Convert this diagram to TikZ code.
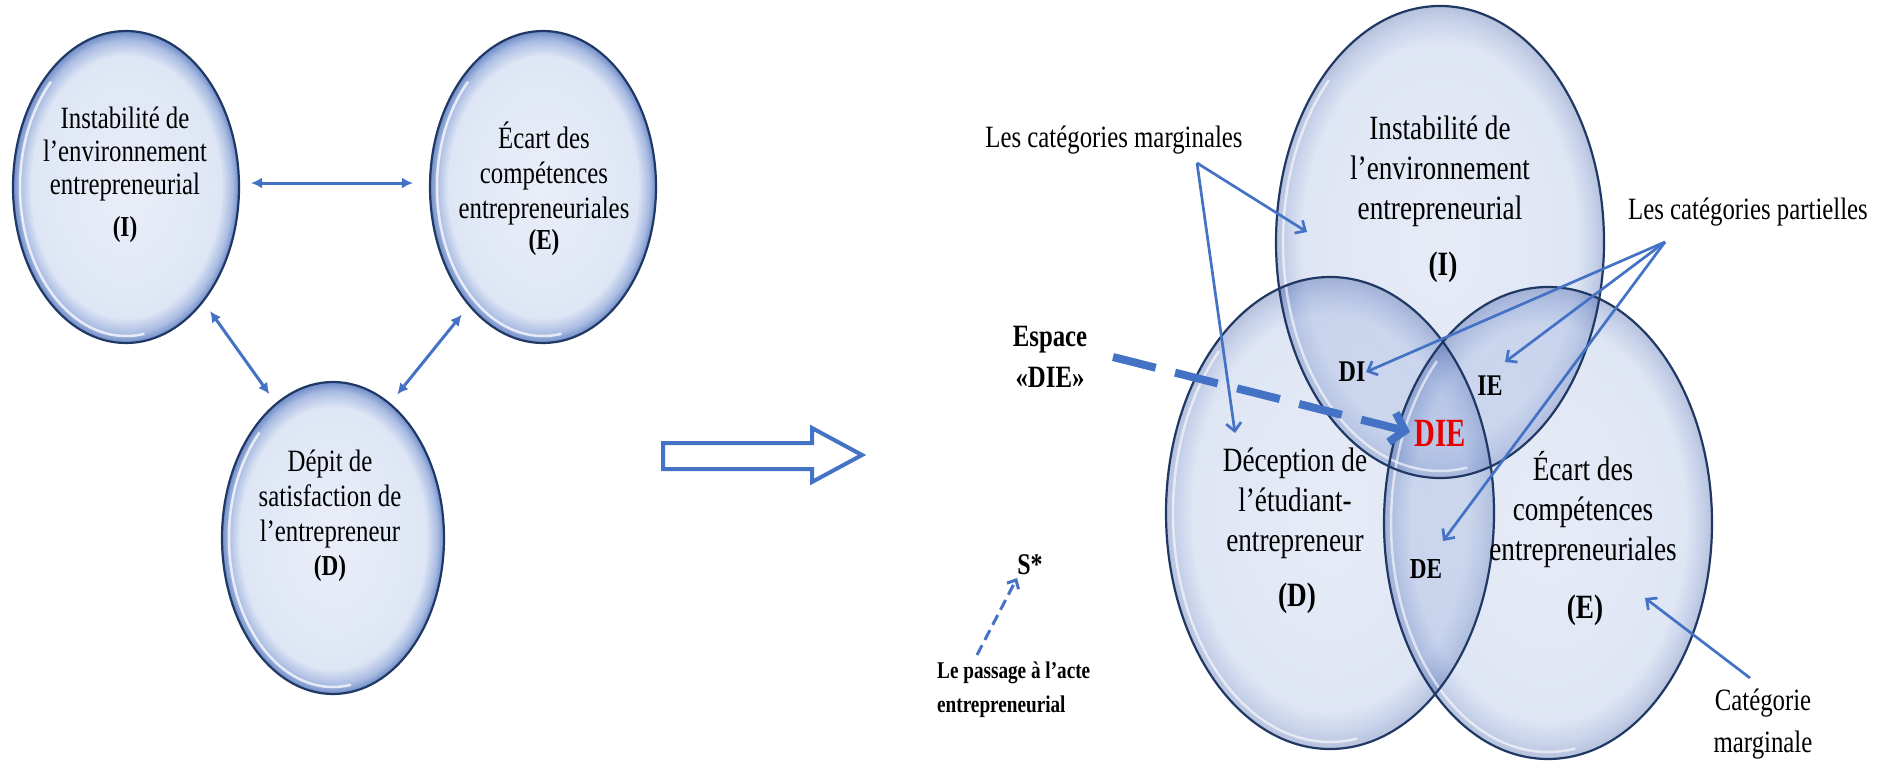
\documentclass[tikz,border=0pt]{standalone}
\usepackage{fontspec}
\setmainfont{Liberation Serif}[FakeStretch=0.8]
\usetikzlibrary{shapes.geometric,arrows.meta,calc}
\definecolor{abl}{RGB}{68,114,196}
\definecolor{navy}{RGB}{31,56,100}
\definecolor{dred}{RGB}{230,0,0}
\definecolor{lcA}{RGB}{234,238,248}
\definecolor{lcB}{RGB}{222,230,245}
\definecolor{lcC}{RGB}{170,188,226}
\definecolor{lcD}{RGB}{110,140,200}
\definecolor{rcA}{RGB}{175,192,228}
\definecolor{rcB}{RGB}{150,172,220}
\definecolor{rcC}{RGB}{70,105,185}
\definecolor{rcD}{RGB}{15,50,140}
\pgfdeclareradialshading{rimL}{\pgfpoint{0bp}{0bp}}{color(0bp)=(lcA); color(21bp)=(lcB); color(23.5bp)=(lcC); color(25bp)=(lcD); color(50bp)=(lcD)}
\pgfdeclareradialshading{rimR}{\pgfpoint{0bp}{0bp}}{color(0bp)=(rcA); color(21bp)=(rcB); color(23.5bp)=(rcC); color(25bp)=(rcD); color(50bp)=(rcD)}
\tikzset{
  lball/.style={ellipse, inner sep=0pt, minimum width=226pt, minimum height=312pt, shade, shading=rimL, draw=navy, line width=2.2pt},
  rball/.style={ellipse, inner sep=0pt, minimum width=328pt, minimum height=472pt, shade, shading=rimR, fill opacity=0.3},
  routline/.style={draw=navy, line width=2.2pt},
  shine/.style={white, opacity=0.75, line width=2.5pt},
  ltxt/.style={align=center, inner sep=0pt, font=\fontsize{31}{33}\selectfont},
  ltxtb/.style={align=center, inner sep=0pt, font=\fontsize{31}{35}\selectfont},
  lbold/.style={inner sep=0pt, font=\bfseries\fontsize{29}{29}\selectfont},
  rtxt/.style={align=center, inner sep=0pt, font=\fontsize{34}{40}\selectfont},
  rbold/.style={inner sep=0pt, font=\bfseries\fontsize{34}{34}\selectfont},
  lab/.style={align=center, inner sep=0pt, font=\fontsize{31}{42}\selectfont},
  labb/.style={align=center, inner sep=0pt, font=\bfseries\fontsize{31}{41}\selectfont},
  zone/.style={inner sep=0pt, font=\bfseries\fontsize{30}{30}\selectfont},
  dbl/.style={abl, line width=3pt, {Latex[length=11pt,width=11pt]}-{Latex[length=11pt,width=11pt]}},
  thin/.style={abl, line width=2.7pt, -{Straight Barb[length=8pt,width=15pt]}},
  bigdash/.style={abl, line width=8pt, dash pattern=on 44pt off 20pt, -{Straight Barb[length=13pt,width=30pt]}},
  smalldash/.style={abl, line width=3pt, dash pattern=on 11pt off 6pt, -{Straight Barb[length=7pt,width=13pt]}},
}
\begin{document}
\begin{tikzpicture}[x=1pt,y=-1pt]
\useasboundingbox[fill=white] (0,0) rectangle (1892,765);

% ---------- left diagram ----------
\node[lball] (LI) at (126,187) {};
\node[lball] (LE) at (543,187) {};
\node[lball, minimum width=222pt] (LD) at (333,538) {};
\draw[shine] ($(LI.center)+({106*cos(225)},{149*sin(225)})$) arc[start angle=225, end angle=80, x radius=106, y radius=149];
\draw[shine] ($(LE.center)+({106*cos(225)},{149*sin(225)})$) arc[start angle=225, end angle=80, x radius=106, y radius=149];
\draw[shine] ($(LD.center)+({104*cos(225)},{149*sin(225)})$) arc[start angle=225, end angle=80, x radius=104, y radius=149];

\node[ltxt] (LIt) at (125,154) {Instabilité de\\l’environnement\\entrepreneurial};
\node[lbold] (LIl) at (125,230) {(I)};
\node[ltxtb] (LEt) at (544,173) {Écart des\\compétences\\entrepreneuriales};
\node[lbold] (LEl) at (544,243) {(E)};
\node[ltxtb] (LDt) at (330,499) {Dépit de\\satisfaction de\\l’entrepreneur};
\node[lbold] (LDl) at (330,569) {(D)};

\draw[dbl, shorten <=11pt, shorten >=16pt] (LI.2) -- (LE.178);
\draw[dbl, shorten <=11pt, shorten >=11pt] (LI.-56) -- (LD.113);
\draw[dbl, shorten <=11pt, shorten >=11pt] (LE.238) -- (LD.67);

% ---------- hollow arrow ----------
\draw[abl, line width=4pt, line join=miter, fill=white]
  (663,443) -- (812,443) -- (812,428) -- (862,455) -- (812,482) -- (812,469) -- (663,469) -- cycle;

% ---------- right diagram ----------
\node[rball] (RI) at (1440,242) {};
\node[rball] (RD) at (1330,513) {};
\node[rball] (RE) at (1548,523) {};
\draw[shine, opacity=0.6] ($(RI.center)+({157*cos(225)},{229*sin(225)})$) arc[start angle=225, end angle=80, x radius=157, y radius=229];
\draw[shine, opacity=0.6] ($(RD.center)+({157*cos(225)},{229*sin(225)})$) arc[start angle=225, end angle=80, x radius=157, y radius=229];
\draw[shine, opacity=0.6] ($(RE.center)+({157*cos(225)},{229*sin(225)})$) arc[start angle=225, end angle=80, x radius=157, y radius=229];
\draw[routline] (RI.center) ellipse [x radius=164pt, y radius=236pt];
\draw[routline] (RD.center) ellipse [x radius=164pt, y radius=236pt];
\draw[routline] (RE.center) ellipse [x radius=164pt, y radius=236pt];

\node[rtxt] (RIt) at (1440,171) {Instabilité de\\l’environnement\\entrepreneurial};
\node[rbold] (RIl) at (1443,267) {(I)};
\node[rtxt] (RDt) at (1295,503) {Déception de\\l’étudiant-\\entrepreneur};
\node[rbold] (RDl) at (1297,598) {(D)};
\node[rtxt] (REt) at (1583,510) {Écart des\\compétences\\entrepreneuriales};
\node[rbold] (REl) at (1585,610) {(E)};

\node[zone] (DI) at (1352,372) {DI};
\node[zone] (IE) at (1490,386) {IE};
\node[zone, font=\bfseries\fontsize{29}{29}\selectfont] (DE) at (1426,569) {DE};
\node[inner sep=0pt, text=dred, font=\bfseries\fontsize{40}{40}\selectfont] (DIE) at (1440,433) {\scalebox{0.9}[1]{DIE}};

\node[lab] (lcm) at (1114,140) {Les catégories marginales};
\node[lab] (lcp) at (1748,212) {Les catégories partielles};
\node[lab] (lcat) at (1763,724) {Catégorie\\marginale};
\node[labb] (esp) at (1050,357) {Espace\\«DIE»};
\node[zone] (sstar) at (1030,565) {S*};
\node[inner sep=0pt, anchor=west, align=left, font=\bfseries\fontsize{24}{34}\selectfont] (lpa) at (937,690) {Le passage à l’acte\\entrepreneurial};

% arrow end points
\coordinate (mS) at (1197,163);
\coordinate (mI) at (1307,232);
\coordinate (mD) at (1235,433);
\coordinate (pS) at (1665,242);
\coordinate (pDI) at (1366,372);
\coordinate (pIE) at (1505,362);
\coordinate (pDE) at (1443,541);
\coordinate (cS) at (1750,678);
\coordinate (cE) at (1645,598);
\coordinate (dS) at (1113,357);
\coordinate (dT) at (1410,432);
\coordinate (sS) at (977,655);
\coordinate (sT) at (1017,578);

\draw[thin] (mS) -- (mI);
\draw[thin] (mS) -- (mD);
\draw[thin] (pS) -- (pDI);
\draw[thin] (pS) -- (pIE);
\draw[thin] (pS) -- (pDE);
\draw[thin] (cS) -- (cE);
\draw[bigdash] (dS) -- (dT);
\draw[smalldash] (sS) -- (sT);
\end{tikzpicture}
\end{document}
